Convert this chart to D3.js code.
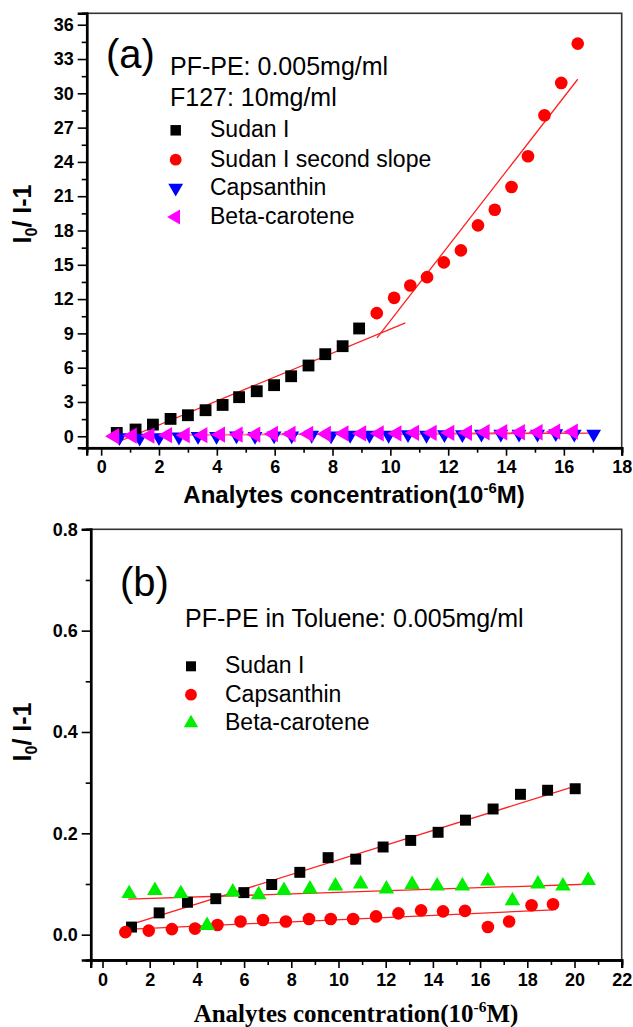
<!DOCTYPE html>
<html>
<head>
<meta charset="utf-8">
<script src="https://cdn.jsdelivr.net/npm/d3@7"></script>
<style>
  body { margin: 0; background: #fff; }
  svg { display: block; font-family: "Liberation Sans", Arial, sans-serif; }
</style>
</head>
<body>
<script>
// ---- panel (a) data ----
var sudanX_a = [0.54, 1.19, 1.79, 2.40, 3.0, 3.61, 4.2, 4.77, 5.38, 5.98, 6.57, 7.17, 7.75, 8.35, 8.92];
var sudanY_a = [0.29, 0.59, 1.02, 1.52, 1.84, 2.28, 2.74, 3.42, 3.94, 4.47, 5.25, 6.19, 7.18, 7.88, 9.43];
var slope2X_a = [9.53, 10.13, 10.69, 11.27, 11.85, 12.44, 13.03, 13.61, 14.19, 14.76, 15.33, 15.91, 16.48];
var slope2Y_a = [10.77, 12.11, 13.19, 13.92, 15.21, 16.26, 18.45, 19.82, 21.8, 24.49, 28.08, 30.91, 34.35];
var capsX_a = [0.63, 1.33, 2.0, 2.69, 3.35, 3.99, 4.68, 5.32, 5.98, 6.59, 7.28, 7.95, 8.61, 9.28, 9.94,
               10.61, 11.25, 11.87, 12.49, 13.15, 13.82, 14.45, 15.09, 15.72, 16.36, 17.03];
var capsY_a = [-0.1, -0.15, -0.1, -0.05, 0.0, 0.0, 0.05, 0.0, 0.05, 0.05, 0.1, 0.05, 0.1, 0.1, 0.1,
               0.15, 0.1, 0.15, 0.15, 0.2, 0.2, 0.2, 0.2, 0.25, 0.2, 0.2];
var betaX_a = [0.46, 1.07, 1.68, 2.29, 2.9, 3.51, 4.12, 4.73, 5.34, 5.95, 6.56, 7.17, 7.78, 8.39,
               9.0, 9.61, 10.22, 10.83, 11.44, 12.05, 12.66, 13.27, 13.88, 14.49, 15.1, 15.71, 16.32];
var betaY_a = [0.0, 0.05, 0.05, 0.1, 0.1, 0.1, 0.15, 0.15, 0.15, 0.2, 0.2, 0.2, 0.2, 0.25,
               0.25, 0.25, 0.25, 0.3, 0.3, 0.3, 0.3, 0.35, 0.35, 0.35, 0.35, 0.4, 0.4];
// fitted lines [x0, y0, x1, y1]
var fitSudan_a = [0.58, -0.5, 10.52, 9.92];
var fitSlope2_a = [9.54, 8.61, 16.48, 31.23];
var fitCaps_a = [0.6, 0.1, 17.0, 0.27];
var fitBeta_a = [0.5, 0.1, 16.5, 0.35];

// ---- panel (b) data ----
var sudanX_b = [1.23, 2.40, 3.6, 4.8, 5.99, 7.17, 8.36, 9.56, 10.73, 11.89, 13.06, 14.22, 15.38, 16.55, 17.71, 18.86, 20.03];
var sudanY_b = [0.015, 0.043, 0.064, 0.071, 0.083, 0.099, 0.123, 0.152, 0.149, 0.173, 0.186, 0.202, 0.226, 0.248, 0.277, 0.285, 0.288];
var capsX_b = [0.97, 1.96, 2.94, 3.92, 4.87, 5.85, 6.8, 7.77, 8.75, 9.67, 10.62, 11.59, 12.54, 13.5, 14.43, 15.36, 16.33, 17.23, 18.18, 19.09];
var capsY_b = [0.005, 0.008, 0.011, 0.012, 0.019, 0.026, 0.029, 0.026, 0.031, 0.031, 0.031, 0.036, 0.042, 0.048, 0.046, 0.047, 0.015, 0.026, 0.058, 0.060];
var betaX_b = [1.13, 2.22, 3.32, 4.43, 5.52, 6.62, 7.69, 8.79, 9.87, 10.94, 12.03, 13.12, 14.18, 15.25, 16.33, 17.37, 18.45, 19.51, 20.58];
var betaY_b = [0.081, 0.087, 0.081, 0.018, 0.084, 0.079, 0.087, 0.090, 0.096, 0.100, 0.090, 0.099, 0.096, 0.096, 0.106, 0.067, 0.100, 0.096, 0.107];
var fitSudan_b = [1.18, 0.02, 20.03, 0.293];
var fitCaps_b = [0.8, 0.01, 19.09, 0.049];
var fitBeta_b = [1.09, 0.070, 20.79, 0.100];

// ---- ticks ----
var xTicksA = [0, 2, 4, 6, 8, 10, 12, 14, 16, 18];
var xMinorA = [1, 3, 5, 7, 9, 11, 13, 15, 17];
var yTicksA = [0, 3, 6, 9, 12, 15, 18, 21, 24, 27, 30, 33, 36];
var yMinorA = [1.5, 4.5, 7.5, 10.5, 13.5, 16.5, 19.5, 22.5, 25.5, 28.5, 31.5, 34.5];
var xTicksB = [0, 2, 4, 6, 8, 10, 12, 14, 16, 18, 20, 22];
var xMinorB = [1, 3, 5, 7, 9, 11, 13, 15, 17, 19, 21];
var yTicksB = [0.0, 0.2, 0.4, 0.6, 0.8];
var yMinorB = [0.1, 0.3, 0.5, 0.7];

var W = 633, H = 1027;
var svg = d3.select("body").append("svg").attr("width", W).attr("height", H);

function zip(xs, ys) { return xs.map(function (x, i) { return [x, ys[i]]; }); }

var sym = {
  square: d3.symbol().type(d3.symbolSquare),
  circle: d3.symbol().type(d3.symbolCircle),
  tri: d3.symbol().type(d3.symbolTriangle)
};

function drawPanel(cfg) {
  var x = d3.scaleLinear().domain(cfg.xDom).range(cfg.xRange);
  var y = d3.scaleLinear().domain(cfg.yDom).range(cfg.yRange);
  var g = svg.append("g");

  // frame
  g.append("rect")
    .attr("x", cfg.xRange[0]).attr("y", cfg.yRange[1])
    .attr("width", cfg.xRange[1] - cfg.xRange[0])
    .attr("height", cfg.yRange[0] - cfg.yRange[1])
    .attr("fill", "none").attr("stroke", "#333").attr("stroke-width", 1.6);

  // axes
  var xAxis = g.append("g").attr("transform", "translate(0," + cfg.yRange[0] + ")")
    .call(d3.axisBottom(x).tickValues(cfg.xTicks).tickSize(8).tickPadding(5).tickFormat(d3.format("d")));
  g.append("g").attr("transform", "translate(0," + cfg.yRange[0] + ")")
    .call(d3.axisBottom(x).tickValues(cfg.xMinor).tickSize(5).tickFormat(""));
  var yAxis = g.append("g").attr("transform", "translate(" + cfg.xRange[0] + ",0)")
    .call(d3.axisLeft(y).tickValues(cfg.yTicks).tickSize(9).tickPadding(4).tickFormat(cfg.yFmt));
  g.append("g").attr("transform", "translate(" + cfg.xRange[0] + ",0)")
    .call(d3.axisLeft(y).tickValues(cfg.yMinor).tickSize(5).tickFormat(""));
  g.selectAll(".domain").attr("stroke", "#000").attr("stroke-width", 2.4);
  g.selectAll(".tick line").attr("stroke", "#000").attr("stroke-width", 1.6);
  g.selectAll(".tick text").attr("font-family", "Liberation Sans, Arial, sans-serif")
    .attr("font-size", 18).attr("font-weight", "bold").attr("fill", "#000");

  // fit lines
  cfg.fits.forEach(function (f) {
    g.append("line")
      .attr("x1", x(f.v[0])).attr("y1", y(f.v[1]))
      .attr("x2", x(f.v[2])).attr("y2", y(f.v[3]))
      .attr("stroke", f.color).attr("stroke-width", 1.3);
  });

  // markers
  cfg.series.forEach(function (s) {
    g.append("g").selectAll("path").data(zip(s.xs, s.ys)).join("path")
      .attr("d", s.path)
      .attr("transform", function (d) { return "translate(" + x(d[0]) + "," + y(d[1]) + ") rotate(" + (s.rot || 0) + ")"; })
      .attr("fill", s.color);
  });

  // panel label and annotation
  g.append("text").attr("x", cfg.label.x).attr("y", cfg.label.y)
    .attr("font-size", cfg.label.size).text(cfg.label.text);
  cfg.notes.forEach(function (n) {
    g.append("text").attr("x", n.x).attr("y", n.y).attr("font-size", 25).text(n.text);
  });
  cfg.legend.forEach(function (l, i) {
    var s = cfg.series[l.si];
    g.append("path").attr("d", s.legPath || s.path)
      .attr("transform", "translate(" + cfg.legX + "," + (l.y - 7) + ") rotate(" + (s.rot || 0) + ")")
      .attr("fill", s.color);
    g.append("text").attr("x", cfg.legTextX).attr("y", l.y).attr("font-size", 23).text(s.name);
  });

  // axis titles
  var xt = g.append("text").attr("x", cfg.xTitle.x).attr("y", cfg.xTitle.y)
    .attr("text-anchor", "middle").attr("font-weight", "bold").attr("font-size", cfg.xTitle.size)
    .attr("font-family", cfg.xTitle.font);
  xt.append("tspan").text("Analytes concentration(10");
  xt.append("tspan").attr("dy", -10).attr("font-size", cfg.xTitle.size * 0.62).text("-6");
  xt.append("tspan").attr("dy", 10).text("M)");

  var yt = g.append("text")
    .attr("transform", "translate(" + cfg.yTitle.x + "," + cfg.yTitle.y + ") rotate(-90)")
    .attr("text-anchor", "middle").attr("font-weight", "bold").attr("font-size", 25);
  yt.append("tspan").text("I");
  yt.append("tspan").attr("dy", 6).attr("font-size", 16).text("0");
  yt.append("tspan").attr("dy", -6).text("/ I-1");
}

drawPanel({
  xDom: [-0.5, 18], xRange: [86.7, 621.7],
  yDom: [-1, 37], yRange: [447.7, 13.3],
  xTicks: xTicksA, xMinor: xMinorA, yTicks: yTicksA, yMinor: yMinorA,
  yFmt: d3.format("d"),
  fits: [
    { v: fitCaps_a, color: "#ff2020" },
    { v: fitBeta_a, color: "#ff8c8c" },
    { v: fitSudan_a, color: "#ff2020" },
    { v: fitSlope2_a, color: "#ff2020" }
  ],
  series: [
    { name: "Sudan I", xs: sudanX_a, ys: sudanY_a, color: "#000", path: sym.square.size(140)(), legPath: sym.square.size(110)() },
    { name: "Sudan I second slope", xs: slope2X_a, ys: slope2Y_a, color: "#ff0000", path: sym.circle.size(125)(), legPath: sym.circle.size(110)() },
    { name: "Capsanthin", xs: capsX_a, ys: capsY_a, color: "#0000ff", path: sym.tri.size(95)(), rot: 180 },
    { name: "Beta-carotene", xs: betaX_a, ys: betaY_a, color: "#ff00ff", path: sym.tri.size(115)(), legPath: sym.tri.size(95)(), rot: -90 }
  ],
  label: { x: 106, y: 68, size: 40, text: "(a)" },
  notes: [
    { x: 170, y: 75, text: "PF-PE: 0.005mg/ml" },
    { x: 170, y: 106, text: "F127: 10mg/ml" }
  ],
  legX: 175.7, legTextX: 210,
  legend: [{ si: 0, y: 137.3 }, { si: 1, y: 166.7 }, { si: 2, y: 195 }, { si: 3, y: 224 }],
  xTitle: { x: 354, y: 503, size: 24, font: "Liberation Sans, Arial, sans-serif" },
  yTitle: { x: 31, y: 214 }
});

drawPanel({
  xDom: [-0.5, 22], xRange: [90.7, 621.7],
  yDom: [-0.05, 0.8], yRange: [960, 529.3],
  xTicks: xTicksB, xMinor: xMinorB, yTicks: yTicksB, yMinor: yMinorB,
  yFmt: d3.format(".1f"),
  fits: [
    { v: fitSudan_b, color: "#ff2020" },
    { v: fitCaps_b, color: "#ff2020" },
    { v: fitBeta_b, color: "#ff2020" }
  ],
  series: [
    { name: "Sudan I", xs: sudanX_b, ys: sudanY_b, color: "#000", path: sym.square.size(120)(), legPath: sym.square.size(100)() },
    { name: "Capsanthin", xs: capsX_b, ys: capsY_b, color: "#ff0000", path: sym.circle.size(125)(), legPath: sym.circle.size(110)() },
    { name: "Beta-carotene", xs: betaX_b, ys: betaY_b, color: "#00ee00", path: sym.tri.size(105)(), legPath: sym.tri.size(90)() }
  ],
  label: { x: 120, y: 596, size: 40, text: "(b)" },
  notes: [
    { x: 185, y: 626.7, text: "PF-PE in Toluene: 0.005mg/ml" }
  ],
  legX: 191, legTextX: 225,
  legend: [{ si: 0, y: 673.3 }, { si: 1, y: 701.7 }, { si: 2, y: 730 }],
  xTitle: { x: 356, y: 1022, size: 25, font: "Liberation Serif, 'Times New Roman', serif" },
  yTitle: { x: 31, y: 732 }
});
</script>
</body>
</html>
